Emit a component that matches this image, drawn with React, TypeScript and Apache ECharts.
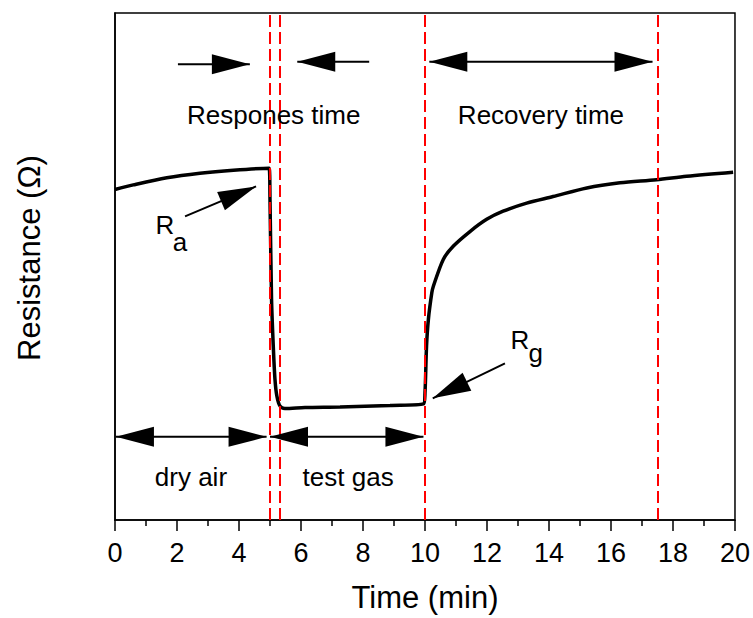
import React, { useEffect, useRef } from "react";
import * as echarts from "echarts";

// Response / recovery transient (resistance in arbitrary units, 0–100)
const time = [
  0, 0.59, 1.67, 2.74, 3.82, 4.97,
  5.0, 5.05, 5.11, 5.16, 5.22, 5.32, 5.48, 6.13, 7.26, 8.87, 9.95,
  10.0, 10.05, 10.11, 10.22, 10.27, 10.59, 10.91, 11.45, 11.99, 12.52, 13.28,
  14.13, 15.22, 16.29, 17.47, 18.44, 19.94,
];
const resistance = [
  65.2, 66.1, 67.5, 68.4, 69.0, 69.4,
  63.2, 43.5, 33.7, 27.8, 24.5, 22.5, 22.0, 22.2, 22.3, 22.6, 22.9,
  25.1, 34.3, 39.6, 44.8, 46.1, 51.4, 54.0, 56.9, 59.3, 60.9, 62.5,
  63.8, 65.5, 66.5, 67.1, 67.8, 68.6,
];

// vertical reference lines (min)
const markerTimes = [5, 5.32, 10, 17.5];

// annotation arrows in data coordinates: [x1, y1] -> [x2, y2]
const arrowStarts = [[2.03, 89.9], [8.2, 90.4], [10.14, 90.4], [0.03, 16.4], [5.0, 16.4], [2.26, 59.9], [12.58, 30.9]];
const arrowEnds = [[4.35, 89.9], [5.88, 90.4], [17.34, 90.4], [4.89, 16.4], [9.95, 16.4], [4.55, 65.8], [10.25, 24.0]];
const arrowDouble = [false, false, true, true, true, false, false];

// annotation texts in data coordinates
const labelTexts = ["Respones time", "Recovery time", "dry air", "test gas", "R", "a", "R", "g"];
const labelAt = [[5.12, 79.9], [13.74, 79.9], [2.45, 8.46], [7.52, 8.46], [1.61, 58.1], [2.1, 54.8], [13.06, 35.5], [13.57, 32.9]];

const FONT = 'Arial, "Liberation Sans", Helvetica, sans-serif';

export default function App() {
  const ref = useRef<HTMLDivElement>(null);
  useEffect(() => {
    if (!ref.current) return;
    const chart = echarts.init(ref.current, undefined, { renderer: "svg" });
    const data = time.map((t, i) => [t, resistance[i]]);
    chart.setOption({
      animation: false,
      backgroundColor: "#ffffff",
      grid: {
        left: 115, right: 18, top: 13, bottom: 97,
        show: true, borderColor: "#000", borderWidth: 1.5, containLabel: false,
      },
      xAxis: {
        type: "value", min: 0, max: 20, interval: 2,
        name: "Time (min)", nameLocation: "middle", nameGap: 62,
        nameTextStyle: { fontSize: 31, color: "#000", fontFamily: FONT },
        axisLine: { show: true, lineStyle: { color: "#000", width: 1.5 } },
        axisTick: { show: true, length: 11, lineStyle: { color: "#000", width: 1.5 } },
        minorTick: { show: true, splitNumber: 2, length: 6, lineStyle: { color: "#000", width: 1.5 } },
        axisLabel: { fontSize: 27, color: "#000", fontFamily: FONT, margin: 19 },
        splitLine: { show: false },
      },
      yAxis: {
        type: "value", min: 0, max: 100,
        axisLine: { show: true, lineStyle: { color: "#000", width: 1.5 } },
        axisTick: { show: false },
        axisLabel: { show: false },
        splitLine: { show: false },
      },
      series: [
        {
          type: "line",
          data,
          showSymbol: false,
          smooth: 0.3,
          lineStyle: { color: "#000", width: 3.5 },
          z: 2,
          markLine: {
            silent: true,
            symbol: ["none", "none"],
            label: { show: false },
            lineStyle: { color: "#ff0000", width: 2, type: [12, 5] },
            data: markerTimes.map((v) => ({ xAxis: v })),
          },
        },
      ],
    });

    const px = (p: number[]) => chart.convertToPixel({ gridIndex: 0 }, p) as number[];
    const HEAD_LEN = 38;
    const HEAD_HW = 10;
    const graphics: any[] = [];
    const head = (tip: number[], from: number[]) => {
      const dx = tip[0] - from[0];
      const dy = tip[1] - from[1];
      const L = Math.hypot(dx, dy);
      const ux = dx / L, uy = dy / L;
      const bx = tip[0] - ux * HEAD_LEN, by = tip[1] - uy * HEAD_LEN;
      return {
        type: "polygon", z: 100,
        shape: { points: [[tip[0], tip[1]], [bx - uy * HEAD_HW, by + ux * HEAD_HW], [bx + uy * HEAD_HW, by - ux * HEAD_HW]] },
        style: { fill: "#000" },
      };
    };
    arrowStarts.forEach((s, i) => {
      const a = px(s);
      const b = px(arrowEnds[i]);
      graphics.push({
        type: "line", z: 99,
        shape: { x1: a[0], y1: a[1], x2: b[0], y2: b[1] },
        style: { stroke: "#000", lineWidth: 2 },
      });
      graphics.push(head(b, a));
      if (arrowDouble[i]) graphics.push(head(a, b));
    });
    labelTexts.forEach((t, i) => {
      const p = px(labelAt[i]);
      graphics.push({
        type: "text", z: 101, x: p[0], y: p[1],
        style: {
          text: t, fontSize: 26, fontFamily: FONT, fill: "#000",
          align: "center", verticalAlign: "middle", textAlign: "center", textVerticalAlign: "middle",
        },
      });
    });
    graphics.push({
      type: "text", z: 101, x: 29, y: 258, rotation: Math.PI / 2,
      style: {
        text: "Resistance (Ω)", fontSize: 31, fontFamily: FONT, fill: "#000",
        align: "center", verticalAlign: "middle", textAlign: "center", textVerticalAlign: "middle",
      },
    });
    chart.setOption({ graphic: graphics });

    return () => chart.dispose();
  }, []);
  return (
    <div
      ref={ref}
      style={{ position: "fixed", left: 0, top: 0, width: 753, height: 618, background: "#fff" }}
    />
  );
}
